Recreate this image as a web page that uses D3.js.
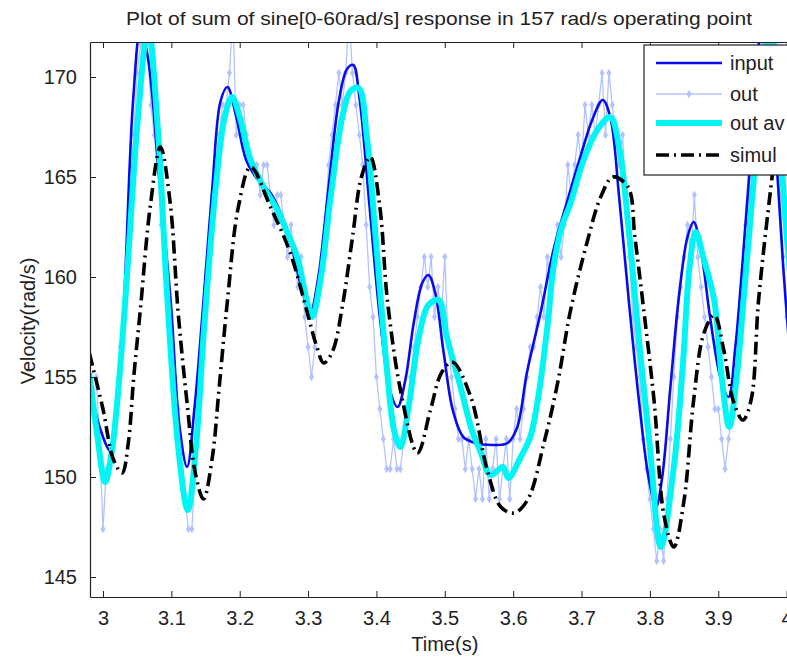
<!DOCTYPE html>
<html>
<head>
<meta charset="utf-8">
<script src="https://cdn.jsdelivr.net/npm/d3@7"></script>
<style>
  body { margin: 0; background: #fff; }
  text { font-family: 'Liberation Sans', Arial, sans-serif; fill: #222; }
</style>
</head>
<body>
<div id="chart"></div>
<script>
const w = 787;
const h = 659;

const titleText = 'Plot of sum of sine[0-60rad/s] response in 157 rad/s operating point';
const xLabel = 'Time(s)';
const yLabel = 'Velocity(rad/s)';
const xTicks = [3, 3.1, 3.2, 3.3, 3.4, 3.5, 3.6, 3.7, 3.8, 3.9, 4];
const yTicks = [145, 150, 155, 160, 165, 170];
const seriesNames = ['input', 'out', 'out av', 'simul'];

// input velocity [time, rad/s]
const inputData = [
  [2.980, 154.8], [2.995, 152.5], [3.011, 151.3], [3.020, 153.5], [3.030, 158.2],
  [3.044, 168.8], [3.055, 172.4], [3.066, 170.9], [3.082, 165.0], [3.099, 158.8],
  [3.112, 152.5], [3.123, 150.5], [3.134, 153.5], [3.147, 158.8], [3.160, 164.5],
  [3.172, 168.8], [3.182, 169.5], [3.195, 168.0], [3.210, 165.8], [3.228, 164.8],
  [3.245, 164.2], [3.260, 163.2], [3.274, 161.8], [3.290, 159.5], [3.303, 158.2],
  [3.315, 160.0], [3.330, 164.5], [3.345, 168.8], [3.357, 170.4], [3.366, 170.6],
  [3.375, 169.0], [3.390, 163.5], [3.405, 158.0], [3.420, 154.3], [3.431, 153.5],
  [3.442, 154.8], [3.455, 157.8], [3.467, 159.7], [3.476, 160.1], [3.486, 159.2],
  [3.498, 156.3], [3.512, 153.3], [3.527, 152.0], [3.545, 151.7], [3.570, 151.6],
  [3.592, 151.7], [3.606, 152.5], [3.620, 155.2], [3.640, 158.2], [3.660, 161.5],
  [3.680, 163.9], [3.700, 166.2], [3.715, 167.8], [3.731, 168.85], [3.742, 168.0],
  [3.755, 164.0], [3.770, 158.5], [3.785, 153.5], [3.798, 150.0], [3.809, 148.5],
  [3.818, 150.0], [3.830, 154.5], [3.843, 159.2], [3.855, 162.0], [3.864, 162.75],
  [3.874, 161.5], [3.888, 158.0], [3.903, 155.0], [3.915, 154.0], [3.925, 156.5],
  [3.935, 160.5], [3.945, 165.0], [3.955, 169.5], [3.963, 172.0], [3.972, 171.8],
  [3.983, 167.0], [3.995, 160.5], [4.005, 156.0]
];

// measured output, quantized samples
const outData = [
  [2.980, 155.0], [2.985, 153.4], [2.990, 155.0], [2.995, 151.9], [3.000, 147.4],
  [3.005, 150.4], [3.010, 150.4], [3.015, 151.9], [3.020, 153.4], [3.025, 156.5],
  [3.030, 158.0], [3.035, 161.0], [3.040, 164.1], [3.045, 167.1], [3.050, 170.2],
  [3.055, 171.7], [3.060, 173.2], [3.065, 171.7], [3.070, 168.6], [3.075, 167.1],
  [3.080, 165.6], [3.085, 162.6], [3.090, 161.0], [3.095, 159.5], [3.100, 158.0],
  [3.105, 155.0], [3.110, 153.4], [3.115, 150.4], [3.120, 148.9], [3.125, 147.4],
  [3.130, 147.4], [3.135, 150.4], [3.140, 153.4], [3.145, 156.5], [3.150, 159.5],
  [3.155, 161.0], [3.160, 164.1], [3.165, 165.6], [3.170, 167.1], [3.175, 168.6],
  [3.180, 168.6], [3.185, 170.2], [3.190, 173.2], [3.195, 167.1], [3.200, 168.6],
  [3.205, 168.6], [3.210, 167.1], [3.215, 165.6], [3.220, 165.6], [3.225, 165.6],
  [3.230, 164.1], [3.235, 165.6], [3.240, 165.6], [3.245, 164.1], [3.250, 162.6],
  [3.255, 164.1], [3.260, 164.1], [3.265, 162.6], [3.270, 161.0], [3.275, 162.6],
  [3.280, 161.0], [3.285, 159.5], [3.290, 161.0], [3.295, 158.0], [3.300, 156.5],
  [3.305, 155.0], [3.310, 156.5], [3.315, 159.5], [3.320, 161.0], [3.325, 162.6],
  [3.330, 165.6], [3.335, 167.1], [3.340, 168.6], [3.345, 170.2], [3.350, 168.6],
  [3.355, 170.2], [3.360, 173.2], [3.365, 170.2], [3.370, 168.6], [3.375, 167.1],
  [3.380, 165.6], [3.385, 162.6], [3.390, 159.5], [3.395, 158.0], [3.400, 155.0],
  [3.405, 153.4], [3.410, 151.9], [3.415, 150.4], [3.420, 150.4], [3.425, 151.9],
  [3.430, 150.4], [3.435, 150.4], [3.440, 151.9], [3.445, 153.4], [3.450, 155.0],
  [3.455, 156.5], [3.460, 158.0], [3.465, 159.5], [3.470, 161.0], [3.475, 159.5],
  [3.480, 161.0], [3.485, 158.0], [3.490, 159.5], [3.495, 158.0], [3.500, 161.0],
  [3.505, 156.5], [3.510, 155.0], [3.515, 153.4], [3.520, 151.9], [3.525, 151.9],
  [3.530, 150.4], [3.535, 151.9], [3.540, 150.4], [3.545, 148.9], [3.550, 150.4],
  [3.555, 148.9], [3.560, 151.9], [3.565, 148.9], [3.570, 150.4], [3.575, 151.9],
  [3.580, 148.9], [3.585, 150.4], [3.590, 151.9], [3.595, 148.9], [3.600, 151.9],
  [3.605, 153.4], [3.610, 151.9], [3.615, 153.4], [3.620, 155.0], [3.625, 156.5],
  [3.630, 156.5], [3.635, 158.0], [3.640, 159.5], [3.645, 158.0], [3.650, 161.0],
  [3.655, 159.5], [3.660, 161.0], [3.665, 162.6], [3.670, 161.0], [3.675, 162.6],
  [3.680, 165.6], [3.685, 164.1], [3.690, 165.6], [3.695, 167.1], [3.700, 165.6],
  [3.705, 168.6], [3.710, 167.1], [3.715, 168.6], [3.720, 167.1], [3.725, 168.6],
  [3.730, 170.2], [3.735, 167.1], [3.740, 170.2], [3.745, 168.6], [3.750, 167.1],
  [3.755, 165.6], [3.760, 167.1], [3.765, 164.1], [3.770, 161.0], [3.775, 158.0],
  [3.780, 156.5], [3.785, 155.0], [3.790, 151.9], [3.795, 150.4], [3.800, 148.9],
  [3.805, 147.4], [3.810, 145.8], [3.815, 147.4], [3.820, 145.8], [3.825, 148.9],
  [3.830, 151.9], [3.835, 155.0], [3.840, 158.0], [3.845, 159.5], [3.850, 161.0],
  [3.855, 162.6], [3.860, 161.0], [3.865, 164.1], [3.870, 161.0], [3.875, 159.5],
  [3.880, 158.0], [3.885, 156.5], [3.890, 155.0], [3.895, 153.4], [3.900, 153.4],
  [3.905, 151.9], [3.910, 150.4], [3.915, 151.9], [3.920, 153.4], [3.925, 155.0],
  [3.930, 158.0], [3.935, 159.5], [3.940, 162.6], [3.945, 164.1], [3.950, 167.1],
  [3.955, 168.6], [3.960, 170.2], [3.965, 171.7], [3.970, 173.2], [3.975, 171.7],
  [3.980, 170.2], [3.985, 167.1], [3.990, 164.1], [3.995, 161.0], [4.000, 158.0]
];

// averaged output
const outAvData = [
  [2.980, 155.2], [2.992, 152.0], [3.003, 149.75], [3.013, 151.3], [3.024, 155.0],
  [3.036, 160.5], [3.050, 167.5], [3.066, 172.5], [3.080, 167.5], [3.094, 159.0],
  [3.110, 151.5], [3.124, 148.35], [3.136, 151.5], [3.148, 157.5], [3.165, 164.5],
  [3.178, 168.0], [3.189, 169.0], [3.200, 168.0], [3.216, 165.85], [3.235, 164.5],
  [3.255, 163.35], [3.270, 162.2], [3.284, 161.0], [3.299, 158.7], [3.306, 158.0],
  [3.318, 159.8], [3.333, 164.0], [3.350, 168.0], [3.362, 169.3], [3.374, 169.45],
  [3.386, 167.0], [3.400, 161.5], [3.415, 155.5], [3.426, 152.3], [3.435, 151.5],
  [3.447, 153.5], [3.462, 157.0], [3.476, 158.6], [3.491, 158.85], [3.503, 157.0],
  [3.523, 154.5], [3.540, 152.3], [3.552, 151.3], [3.567, 150.1], [3.585, 150.5],
  [3.593, 149.95], [3.611, 151.0], [3.625, 152.0], [3.636, 153.85], [3.650, 157.5],
  [3.659, 160.5], [3.671, 162.5], [3.684, 163.7], [3.703, 165.85], [3.723, 167.35],
  [3.742, 168.0], [3.755, 166.5], [3.770, 162.0], [3.785, 156.5], [3.800, 151.5],
  [3.816, 146.5], [3.835, 150.5], [3.848, 155.5], [3.858, 160.5], [3.867, 162.25],
  [3.878, 161.0], [3.894, 158.85], [3.905, 155.0], [3.916, 152.5], [3.927, 155.0],
  [3.937, 158.85], [3.951, 164.5], [3.965, 170.0], [3.977, 172.5], [3.988, 168.0],
  [3.998, 163.0], [4.008, 159.0]
];

// simulated response
const simulData = [
  [2.980, 156.2], [3.000, 153.4], [3.015, 150.9], [3.028, 150.2], [3.037, 151.7],
  [3.045, 155.0], [3.055, 158.5], [3.069, 163.5], [3.084, 166.5], [3.098, 163.8],
  [3.110, 158.2], [3.123, 153.7], [3.135, 150.2], [3.147, 148.9], [3.160, 151.0],
  [3.170, 154.5], [3.182, 158.8], [3.198, 163.5], [3.216, 165.5], [3.245, 163.5],
  [3.274, 161.2], [3.299, 158.2], [3.312, 156.6], [3.323, 155.7], [3.336, 156.3],
  [3.350, 158.5], [3.365, 162.0], [3.378, 165.0], [3.391, 166.0], [3.405, 163.5],
  [3.416, 158.85], [3.436, 154.2], [3.460, 151.2], [3.479, 153.35], [3.495, 155.2],
  [3.511, 155.75], [3.538, 154.0], [3.562, 150.35], [3.582, 148.5], [3.601, 148.2],
  [3.621, 148.85], [3.645, 151.7], [3.665, 154.7], [3.684, 158.35], [3.709, 161.85],
  [3.728, 164.0], [3.746, 165.0], [3.768, 164.5], [3.778, 162.0], [3.791, 158.35],
  [3.806, 153.85], [3.821, 148.0], [3.835, 146.5], [3.850, 148.85], [3.864, 153.85],
  [3.879, 157.2], [3.894, 158.1], [3.908, 156.35], [3.922, 153.8], [3.936, 152.85],
  [3.948, 153.85], [3.959, 158.85], [3.977, 164.5], [3.992, 168.5], [4.008, 171.0]
];

const plot = { left: 90, top: 42, right: 788, bottom: 597 };

const svg = d3.select('#chart').append('svg').attr('width', w).attr('height', h);

const xScale = d3.scaleLinear().domain([2.981, 4.002]).range([plot.left, plot.right]);
const yScale = d3.scaleLinear().domain([144, 171.75]).range([plot.bottom, plot.top]);

svg.append('clipPath').attr('id', 'clip')
   .append('rect')
   .attr('x', plot.left).attr('y', plot.top)
   .attr('width', plot.right - plot.left).attr('height', plot.bottom - plot.top);

const smooth = d3.line().x(d => xScale(d[0])).y(d => yScale(d[1])).curve(d3.curveCatmullRom.alpha(0.5));
const straight = d3.line().x(d => xScale(d[0])).y(d => yScale(d[1]));

const g = svg.append('g').attr('clip-path', 'url(#clip)');

// out (light blue, markers)
g.append('path').attr('d', straight(outData))
 .attr('fill', 'none').attr('stroke', '#b3c3ff').attr('stroke-width', 1.3);

const diamond = d3.symbol().type(d3.symbolDiamond).size(22);
g.selectAll('.marker')
 .data(outData)
 .enter()
 .append('path')
 .attr('class', 'marker')
 .attr('d', diamond)
 .attr('transform', d => `translate(${xScale(d[0])},${yScale(d[1])})`)
 .attr('fill', '#b3c3ff');

// input
g.append('path').attr('d', smooth(inputData))
 .attr('fill', 'none').attr('stroke', '#0a0af0').attr('stroke-width', 2.6);

// out av
g.append('path').attr('d', smooth(outAvData))
 .attr('fill', 'none').attr('stroke', '#00f5f5').attr('stroke-width', 6)
 .attr('stroke-linejoin', 'round');

// simul
g.append('path').attr('d', smooth(simulData))
 .attr('fill', 'none').attr('stroke', '#000').attr('stroke-width', 3.6)
 .attr('stroke-dasharray', '13,5,2,5');

// axes
const fmt = d => String(+d.toFixed(1));

const bottomAxis = svg.append('g').attr('transform', `translate(0,${plot.bottom})`)
  .call(d3.axisBottom(xScale).tickValues(xTicks).tickFormat(fmt).tickSizeInner(-6).tickSizeOuter(0).tickPadding(14));

const topAxis = svg.append('g').attr('transform', `translate(0,${plot.top})`)
  .call(d3.axisTop(xScale).tickValues(xTicks).tickFormat('').tickSizeInner(-6).tickSizeOuter(0));

const leftAxis = svg.append('g').attr('transform', `translate(${plot.left},0)`)
  .call(d3.axisLeft(yScale).tickValues(yTicks).tickSizeInner(-6).tickSizeOuter(0).tickPadding(13));

[bottomAxis, topAxis, leftAxis].forEach(a => {
  a.selectAll('path.domain').attr('stroke', '#222').attr('stroke-width', 1.2);
  a.selectAll('.tick line').attr('stroke', '#222');
  a.selectAll('.tick text').attr('font-size', 20).attr('font-family', "'Liberation Sans', Arial, sans-serif").attr('fill', '#222');
});

// titles
svg.append('text')
   .attr('x', 439).attr('y', 25)
   .attr('text-anchor', 'middle')
   .attr('font-size', 19)
   .attr('textLength', 626).attr('lengthAdjust', 'spacingAndGlyphs')
   .text(titleText);

svg.append('text')
   .attr('x', (xScale(3.5))).attr('y', 651)
   .attr('text-anchor', 'middle')
   .attr('font-size', 20)
   .text(xLabel);

svg.append('text')
   .attr('transform', 'translate(35,321) rotate(-90)')
   .attr('text-anchor', 'middle')
   .attr('font-size', 20)
   .text(yLabel);

// legend
const legend = svg.append('g').attr('transform', 'translate(644,45)');
legend.append('rect').attr('width', 200).attr('height', 130)
      .attr('fill', '#fff').attr('stroke', '#222').attr('stroke-width', 1.2);

const legendY = [18, 49, 78, 110];
const legendStyles = [
  { stroke: '#0a0af0', width: 2.6, dash: null },
  { stroke: '#b3c3ff', width: 1.3, dash: null },
  { stroke: '#00f5f5', width: 6, dash: null },
  { stroke: '#000', width: 3.6, dash: '13,5,2,5' }
];

seriesNames.forEach((name, i) => {
  const s = legendStyles[i];
  const line = legend.append('line')
    .attr('x1', 12).attr('x2', 78)
    .attr('y1', legendY[i]).attr('y2', legendY[i])
    .attr('stroke', s.stroke).attr('stroke-width', s.width);
  if (s.dash) line.attr('stroke-dasharray', s.dash);
  if (name === 'out') {
    legend.append('path').attr('d', diamond)
      .attr('transform', `translate(45,${legendY[i]})`).attr('fill', '#b3c3ff');
  }
  legend.append('text')
    .attr('x', 86).attr('y', legendY[i] + 7)
    .attr('font-size', 20)
    .text(name);
});
</script>
</body>
</html>
